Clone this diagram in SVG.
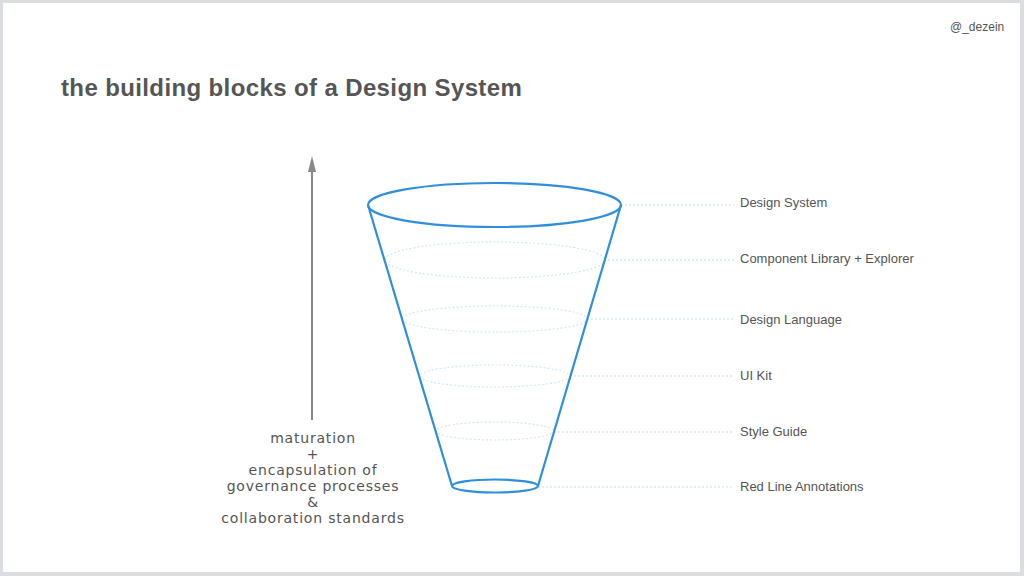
<svg xmlns="http://www.w3.org/2000/svg" width="1024" height="576" viewBox="0 0 1024 576">
<style>
.t{font-family:"Liberation Sans",Arial,sans-serif;fill:#555}
.lbl{font-size:13px}
.cap{font-family:"DejaVu Sans",sans-serif;font-size:14px;letter-spacing:0.8px;text-anchor:middle;fill:#555}
.ring{fill:none;stroke:#d3e5f6;stroke-width:1.2;stroke-dasharray:2 2}
.conn{fill:none;stroke:#c3dbf2;stroke-width:1.2;stroke-dasharray:2 2}
.solid{fill:none;stroke:#2f8fdc;stroke-width:2.2}
</style>
<rect x="0" y="0" width="1024" height="576" fill="#dcdde0"/>
<rect x="3" y="3" width="1017" height="569" fill="#fff"/>
<text class="t" x="950" y="31" font-size="12">@_dezein</text>
<text class="t" x="61" y="96" font-size="24" font-weight="bold" letter-spacing="0.38">the building blocks of a Design System</text>
<g id="arrow">
<line x1="312" y1="420" x2="312" y2="168" stroke="#888" stroke-width="2"/>
<polygon points="312,156 308,172 316,172" fill="#888"/>
</g>
<g id="caption">
<text class="cap" x="313" y="443">maturation</text>
<text class="cap" x="313" y="459">+</text>
<text class="cap" x="313" y="475">encapsulation of</text>
<text class="cap" x="313" y="491">governance processes</text>
<text class="cap" x="313" y="507">&amp;</text>
<text class="cap" x="313" y="523">collaboration standards</text>
</g>
<g id="connectors">
<line class="conn" x1="621" y1="205" x2="734" y2="205"/>
<line class="conn" x1="604" y1="260" x2="734" y2="260"/>
<line class="conn" x1="587" y1="319" x2="734" y2="319"/>
<line class="conn" x1="570" y1="376" x2="734" y2="376"/>
<line class="conn" x1="554" y1="432" x2="734" y2="432"/>
<line class="conn" x1="538" y1="487" x2="734" y2="487"/>
</g>
<g id="funnel">
<ellipse class="ring" cx="495" cy="260" rx="110" ry="18"/>
<ellipse class="ring" cx="495" cy="319" rx="93" ry="13"/>
<ellipse class="ring" cx="495" cy="376" rx="75" ry="11"/>
<ellipse class="ring" cx="495" cy="431" rx="59" ry="9"/>
<line class="solid" x1="368" y1="205" x2="452" y2="486"/>
<line class="solid" x1="621" y1="205" x2="538" y2="486"/>
<ellipse class="solid" cx="494.5" cy="205" rx="126.5" ry="22"/>
<ellipse class="solid" cx="495" cy="486" rx="43" ry="6.5"/>
</g>
<g id="n-design-system"><text class="t lbl" x="740" y="207">Design System</text></g>
<g id="n-component-library"><text class="t lbl" x="740" y="263">Component Library + Explorer</text></g>
<g id="n-design-language"><text class="t lbl" x="740" y="324">Design Language</text></g>
<g id="n-ui-kit"><text class="t lbl" x="740" y="380">UI Kit</text></g>
<g id="n-style-guide"><text class="t lbl" x="740" y="436">Style Guide</text></g>
<g id="n-red-line"><text class="t lbl" x="740" y="491">Red Line Annotations</text></g>
</svg>
